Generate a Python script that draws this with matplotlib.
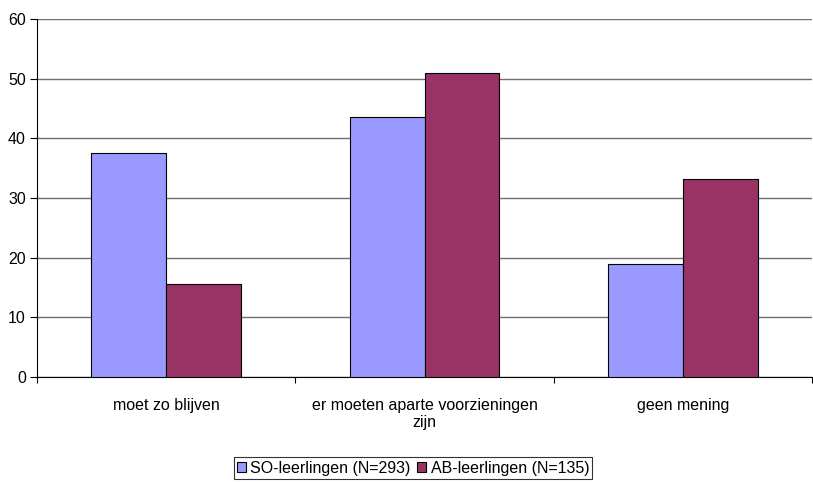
import numpy as np
import matplotlib
matplotlib.use("Agg")
import matplotlib.pyplot as plt
from matplotlib.patches import Patch

plt.rcParams['font.family'] = ['Liberation Sans', 'DejaVu Sans']

# data
categories = ["moet zo blijven", "er moeten aparte voorzieningen\nzijn", "geen mening"]
series_names = ["SO-leerlingen (N=293)", "AB-leerlingen (N=135)"]
so_values = [37.5, 43.6, 18.9]
ab_values = [15.6, 51.0, 33.2]
colors = ["#9999FF", "#993366"]

fs = 11.5

fig = plt.figure(figsize=(8.13, 4.83), dpi=100)
ax = fig.add_axes([37 / 813, 1 - 377 / 483, 775 / 813, 358 / 483])

x = np.arange(len(categories))
w = 0.29
ax.bar(x - w / 2, so_values, w, color=colors[0], edgecolor="black", linewidth=0.8, zorder=3)
ax.bar(x + w / 2, ab_values, w, color=colors[1], edgecolor="black", linewidth=0.8, zorder=3)

ax.set_xlim(-0.5, len(categories) - 0.5)
ax.set_ylim(0, 60)
ax.set_yticks(range(0, 61, 10))
ax.yaxis.grid(True, color="#707070", linewidth=1, zorder=0)
ax.tick_params(axis="y", direction="out", length=5, width=0.8, labelsize=fs, pad=3)

ax.set_xticks(x)
ax.set_xticklabels(categories, fontsize=fs, linespacing=1.15)
ax.tick_params(axis="x", length=0, pad=15)
ax.set_xticks(np.arange(-0.5, len(categories)), minor=True)
ax.tick_params(axis="x", which="minor", direction="out", length=4, width=0.8)

for s in ["top", "right"]:
    ax.spines[s].set_visible(False)
ax.spines["left"].set_color("black")
ax.spines["bottom"].set_color("black")

handles = [Patch(facecolor=c, edgecolor="black", linewidth=0.8) for c in colors]
leg = fig.legend(handles, series_names, loc="center", bbox_to_anchor=(413 / 813, 1 - 468 / 483),
                 ncol=2, fontsize=fs, frameon=True, fancybox=False, handlelength=0.55,
                 handleheight=0.55, handletextpad=0.3, columnspacing=0.4, borderpad=0.2,
                 borderaxespad=0)
leg.get_frame().set_edgecolor("black")
leg.get_frame().set_linewidth(0.8)

fig.savefig("out.png", dpi=100)
